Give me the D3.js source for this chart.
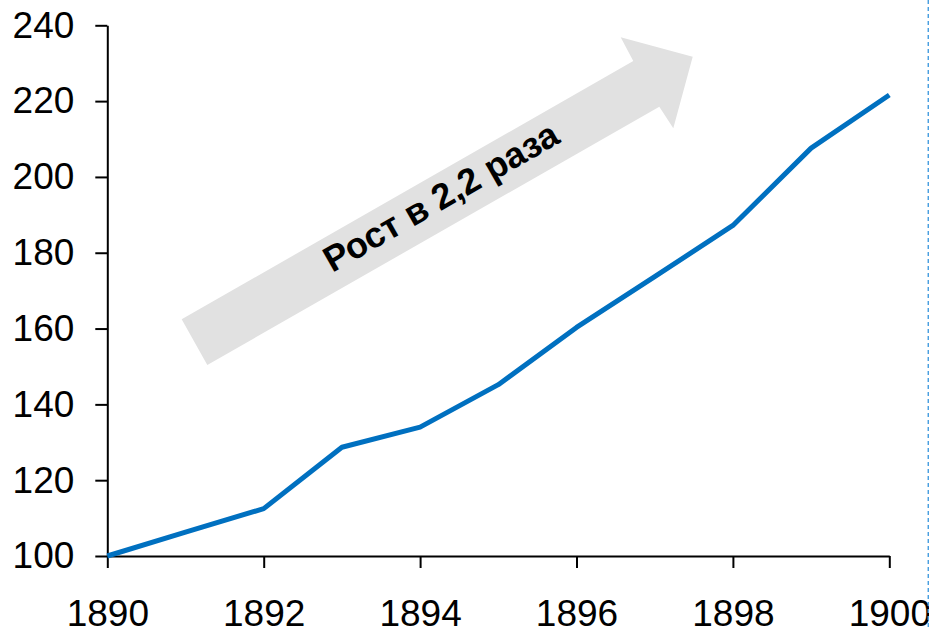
<!DOCTYPE html>
<html>
<head>
<meta charset="utf-8">
<script src="https://cdn.jsdelivr.net/npm/d3@7"></script>
<style>
  html, body { margin: 0; padding: 0; background: #fff; }
  svg { display: block; }
</style>
</head>
<body>
<svg id="chart" width="929" height="627"></svg>
<script>
// ---- data ----
const years = [1890, 1891, 1892, 1893, 1894, 1895, 1896, 1897, 1898, 1899, 1900];
const values = [100, 106.3, 112.5, 128.7, 134, 145.2, 160.3, 173.7, 187.2, 207.6, 221.6];
const xTicks = [1890, 1892, 1894, 1896, 1898, 1900];
const yTicks = [100, 120, 140, 160, 180, 200, 220, 240];
const annotationText = "Рост в 2,2 раза";
// arrow outline in data units (year, value)
const arrowYears = [1890.951, 1891.279, 1897.059, 1897.238, 1897.486, 1896.565, 1896.726];
const arrowValues = [162.44, 150.39, 218.53, 212.83, 231.72, 236.84, 230.58];

const svg = d3.select("#chart");
const x = d3.scaleLinear().domain([1890, 1900]).range([107.3, 889.3]);
const y = d3.scaleLinear().domain([100, 240]).range([556, 25.3]);

// arrow
const arrowPts = arrowYears.map((yr, i) => [x(yr), y(arrowValues[i])]);
svg.append("polygon")
  .attr("points", arrowPts.map(p => p.join(",")).join(" "))
  .attr("fill", "#e1e1e1");

// annotation text along arrow
const a0 = arrowPts[0], a1 = arrowPts[6];
const angle = Math.atan2(a1[1] - a0[1], a1[0] - a0[0]) * 180 / Math.PI;
const tx = x(1894.344), ty = y(191.94);
svg.append("text")
  .attr("transform", `translate(${tx},${ty}) rotate(${angle})`)
  .attr("text-anchor", "middle")
  .attr("font-family", "'Liberation Sans', Arial, sans-serif")
  .attr("font-weight", "bold")
  .attr("font-size", 36)
  .attr("fill", "#000")
  .text(annotationText);

// axes
const fontFam = "'Liberation Sans', Arial, sans-serif";
const yAxis = d3.axisLeft(y).tickValues(yTicks).tickSize(12).tickSizeOuter(0).tickPadding(21);
const gy = svg.append("g").attr("transform", `translate(${x(1890)},0)`).call(yAxis);
const xAxis = d3.axisBottom(x).tickValues(xTicks).tickFormat(d3.format("d")).tickSize(12).tickSizeOuter(0).tickPadding(32);
const gx = svg.append("g").attr("transform", `translate(0,${y(100)})`).call(xAxis);
[gx, gy].forEach(g => {
  g.selectAll("path, line").attr("stroke", "#000").attr("stroke-width", 2);
  g.selectAll("text").attr("font-family", fontFam).attr("font-size", 37).attr("fill", "#000");
});

// line
const line = d3.line().x((d, i) => x(years[i])).y(d => y(d));
svg.append("path")
  .datum(values)
  .attr("d", line)
  .attr("fill", "none")
  .attr("stroke", "#0070C0")
  .attr("stroke-width", 5)
  .attr("stroke-linejoin", "round");

// dashed border line at right
svg.append("line")
  .attr("x1", 928.3).attr("x2", 928.3)
  .attr("y1", 0).attr("y2", 627)
  .attr("stroke", "#4a9fe0")
  .attr("stroke-width", 1.5)
  .attr("stroke-dasharray", "4,3");
</script>
</body>
</html>
